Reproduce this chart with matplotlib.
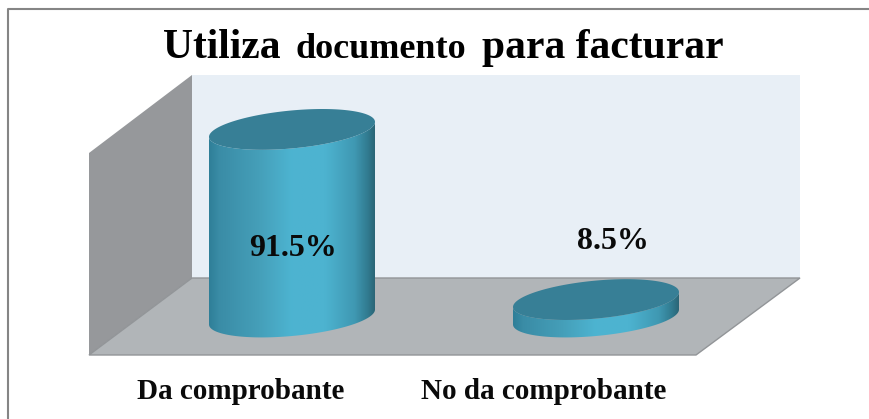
import numpy as np
import matplotlib
matplotlib.use("Agg")
import matplotlib.pyplot as plt
from matplotlib.colors import LinearSegmentedColormap
from matplotlib.patches import Polygon

categories = ["Da comprobante", "No da comprobante"]
values = [91.5, 8.5]
value_labels = ["91.5%", "8.5%"]

W, H = 870, 419
SERIF = "Liberation Serif"
PX_PER_PCT = 2.05
BASE_Y = 317
CENTERS = [292, 596]
RX, RY, SHEAR = 83, 19, 0.09

side_cmap = LinearSegmentedColormap.from_list(
    "side",
    [(0.0, "#2f7f98"), (0.06, "#3a8ca6"), (0.3, "#459fb9"), (0.5, "#4db4d1"),
     (0.7, "#4db3d0"), (0.88, "#3f98b2"), (0.96, "#317a8f"), (1.0, "#2b6677")],
)


def ellipse_pts(cx, cy, t):
    return np.column_stack([cx + RX * np.cos(t), cy + RY * np.sin(t) - SHEAR * RX * np.cos(t)])


def draw_cylinder(ax, cx, value):
    top = BASE_Y - value * PX_PER_PCT
    # side: front half of the top edge, then front half of the base going back
    t = np.linspace(0, np.pi, 80)
    outline = np.vstack([ellipse_pts(cx, top, t[::-1]), ellipse_pts(cx, BASE_Y, t)])
    side = Polygon(outline, closed=True, facecolor="none", edgecolor="none", zorder=3)
    ax.add_patch(side)
    grad = np.linspace(0, 1, 256).reshape(1, -1)
    im = ax.imshow(grad, cmap=side_cmap, aspect="auto", zorder=3, interpolation="bilinear",
                   extent=(cx - RX, cx + RX, BASE_Y + RY + 12, top - RY - 12))
    im.set_clip_path(side)
    lid = ellipse_pts(cx, top, np.linspace(0, 2 * np.pi, 160))
    ax.add_patch(Polygon(lid, closed=True, facecolor="#377f96", edgecolor="none", zorder=4))


fig = plt.figure(figsize=(W / 100, H / 100), dpi=100, facecolor="white")
ax = fig.add_axes([0, 0, 1, 1])
ax.set_xlim(0, W)
ax.set_ylim(H, 0)
ax.axis("off")

# frame only shows on the top and left
ax.plot([W, 8.5, 8.5], [9.5, 9.5, H], color="#858585", linewidth=1.5, zorder=0)

# 3d box
ax.add_patch(Polygon([(192, 75), (800, 75), (800, 278), (192, 278)], facecolor="#e8eff6", edgecolor="none", zorder=1))
ax.add_patch(Polygon([(89, 153), (192, 75), (192, 278), (89, 355)], facecolor="#96989b", edgecolor="none", zorder=1))
ax.add_patch(Polygon([(89, 355), (192, 278), (800, 278), (696, 355)], facecolor="#b1b5b8", edgecolor="#929598", linewidth=1, zorder=2))

for cx, v in zip(CENTERS, values):
    draw_cylinder(ax, cx, v)
ax.set_xlim(0, W)
ax.set_ylim(H, 0)

ax.text(293, 248, value_labels[0], family=SERIF, weight="bold", fontsize=23, ha="center", va="center", color="#0a0a0a", zorder=5)
ax.text(613, 241, value_labels[1], family=SERIF, weight="bold", fontsize=23, ha="center", va="center", color="#0a0a0a", zorder=5)

ax.text(241, 391, categories[0], family=SERIF, weight="bold", fontsize=21, ha="center", va="center", color="#0a0a0a")
ax.text(544, 391, categories[1], family=SERIF, weight="bold", fontsize=21, ha="center", va="center", color="#0a0a0a")

ax.text(163, 58, "Utiliza", family=SERIF, weight="bold", fontsize=30, ha="left", va="baseline", color="black")
ax.text(296, 58, "documento", family=SERIF, weight="bold", fontsize=26, ha="left", va="baseline", color="black")
ax.text(482, 58, "para facturar", family=SERIF, weight="bold", fontsize=30, ha="left", va="baseline", color="black")

fig.savefig("out.png", dpi=100)
plt.close(fig)
